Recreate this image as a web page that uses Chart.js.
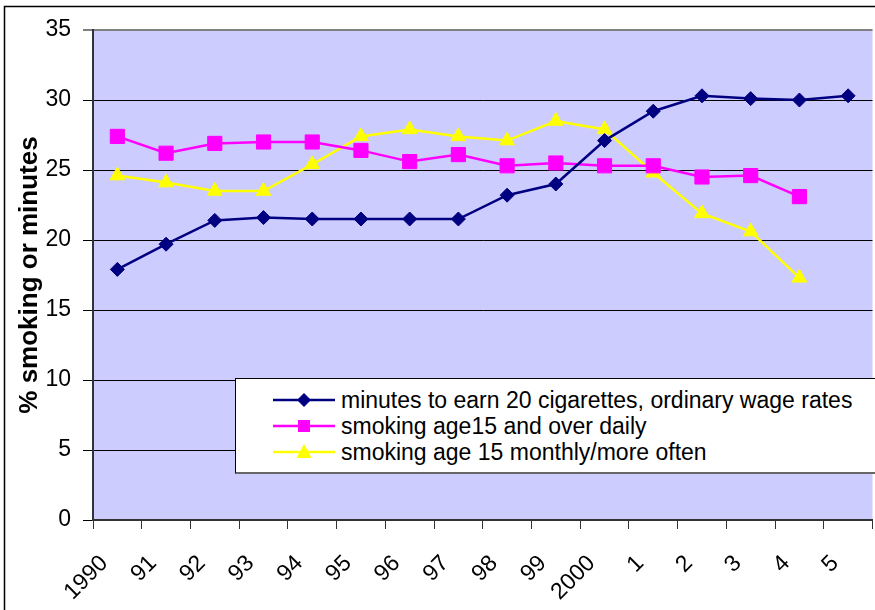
<!DOCTYPE html>
<html>
<head>
<meta charset="utf-8">
<script src="https://cdn.jsdelivr.net/npm/chart.js@4.4.0/dist/chart.umd.min.js"></script>
<style>
    html, body { margin: 0; padding: 0; background: #fff; overflow: hidden; }
    #wrap { position: relative; width: 889px; height: 610px; }
    #legend {
        position: absolute; left: 235px; top: 378px; width: 660px; height: 96px;
        box-sizing: border-box; background: #fff;
        border: 1px solid #000; border-bottom: 2px solid #666;
        padding-top: 8px;
        font-family: 'Liberation Sans', Arial, sans-serif; font-size: 23px; color: #000;
    }
    .legend-row { display: flex; align-items: center; height: 26px; white-space: nowrap; }
    .legend-row svg { margin-left: 37px; margin-right: 6px; flex: none; }
</style>
</head>
<body>
<div id="wrap">
    <canvas id="smokingChart" width="889" height="610"></canvas>
    <div id="legend"></div>
</div>
<script>
// Chart data
const years = ['1990', '91', '92', '93', '94', '95', '96', '97', '98', '99', '2000', '1', '2', '3', '4', '5'];
const minutesToEarn = [17.9, 19.7, 21.4, 21.6, 21.5, 21.5, 21.5, 21.5, 23.2, 24.0, 27.1, 29.2, 30.3, 30.1, 30.0, 30.3];
const smokingDaily = [27.4, 26.2, 26.9, 27.0, 27.0, 26.4, 25.6, 26.1, 25.3, 25.5, 25.3, 25.3, 24.5, 24.6, 23.1, null];
const smokingMonthly = [24.6, 24.1, 23.5, 23.5, 25.4, 27.4, 27.9, 27.4, 27.1, 28.5, 27.9, 24.8, 21.9, 20.6, 17.3, null];
const seriesNames = [
    'minutes to earn 20 cigarettes, ordinary wage rates',
    'smoking age15 and over daily',
    'smoking age 15 monthly/more often'
];
const yMin = 0;
const yMax = 35;
const yStep = 5;
const yTitle = '% smoking or minutes';

const FONT = "'Liberation Sans', Arial, sans-serif";

// Lavender plot area and the outer chart frame
const plotBackground = {
    id: 'plotBackground',
    beforeDraw(chart) {
        const { ctx, chartArea: a } = chart;
        ctx.save();
        ctx.fillStyle = '#ccccff';
        ctx.fillRect(a.left, a.top, a.right - a.left, a.bottom - a.top);
        ctx.strokeStyle = '#000';
        ctx.lineWidth = 1.5;
        ctx.beginPath();
        ctx.moveTo(4.5, chart.height);
        ctx.lineTo(4.5, 6.5);
        ctx.lineTo(chart.width, 6.5);
        ctx.stroke();
        ctx.restore();
    }
};

function makeDataset(label, data, color, style, radius) {
    return {
        label: label,
        data: data,
        borderColor: color,
        backgroundColor: color,
        borderWidth: 2.5,
        pointStyle: style,
        pointRadius: radius,
        pointHoverRadius: radius,
        pointBackgroundColor: color,
        pointBorderColor: color,
        pointBorderWidth: 1,
        tension: 0,
        spanGaps: false
    };
}

const chart = new Chart(document.getElementById('smokingChart').getContext('2d'), {
    type: 'line',
    data: {
        labels: years,
        datasets: [
            makeDataset(seriesNames[0], minutesToEarn, '#000080', 'rectRot', 7),
            makeDataset(seriesNames[1], smokingDaily, '#ff00ff', 'rect', 10),
            makeDataset(seriesNames[2], smokingMonthly, '#ffff00', 'triangle', 8.5)
        ]
    },
    options: {
        responsive: false,
        devicePixelRatio: 1,
        animation: false,
        layout: { padding: { top: 30, left: 0, right: 0, bottom: 0 } },
        plugins: {
            legend: { display: false },
            tooltip: { enabled: false }
        },
        scales: {
            x: {
                offset: true,
                afterFit(scale) { scale.height = 90; },
                grid: {
                    offset: true,
                    drawOnChartArea: false,
                    tickLength: 9,
                    color: '#333',
                    lineWidth: 1
                },
                border: { color: '#333', width: 2 },
                ticks: {
                    autoSkip: false,
                    minRotation: 45,
                    maxRotation: 45,
                    padding: 21,
                    labelOffset: -13,
                    color: '#000',
                    font: { family: FONT, size: 23 }
                }
            },
            y: {
                min: yMin,
                max: yMax,
                afterFit(scale) { scale.width = 93; },
                grid: {
                    color: ctx => (ctx.tick && ctx.tick.value === yMax ? '#808080' : '#000'),
                    lineWidth: ctx => (ctx.tick && ctx.tick.value === yMax ? 2 : 1),
                    tickLength: 10
                },
                border: { color: '#333', width: 2 },
                ticks: {
                    stepSize: yStep,
                    padding: 12,
                    color: '#000',
                    font: { family: FONT, size: 23 }
                },
                title: {
                    display: true,
                    text: yTitle,
                    color: '#000',
                    padding: { top: 14, bottom: 0 },
                    font: { family: FONT, size: 26, weight: 'bold' }
                }
            }
        }
    },
    plugins: [plotBackground]
});

// Legend built from the datasets: line with marker in the middle, then the label
function symbolSvg(ds) {
    const c = ds.borderColor;
    let marker = '';
    if (ds.pointStyle === 'rectRot') {
        marker = `<polygon points="31,6 38,13 31,20 24,13" fill="${c}"/>`;
    } else if (ds.pointStyle === 'rect') {
        marker = `<rect x="25" y="7" width="12" height="12" fill="${c}"/>`;
    } else {
        marker = `<polygon points="31,5 38.5,19 23.5,19" fill="${c}"/>`;
    }
    return `<svg width="62" height="26" viewBox="0 0 62 26">
        <line x1="0" y1="13" x2="62" y2="13" stroke="${c}" stroke-width="2.5"/>${marker}</svg>`;
}

const legendBox = document.getElementById('legend');
chart.data.datasets.forEach(ds => {
    const row = document.createElement('div');
    row.className = 'legend-row';
    row.innerHTML = symbolSvg(ds);
    const text = document.createElement('span');
    text.textContent = ds.label;
    row.appendChild(text);
    legendBox.appendChild(row);
});
</script>
</body>
</html>
